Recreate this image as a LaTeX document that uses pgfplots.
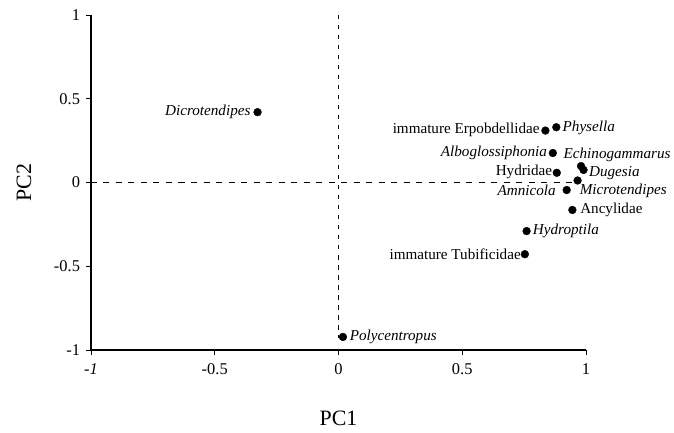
\documentclass[border=0pt]{standalone}
\usepackage{pgfplots}
\pgfplotsset{compat=1.18}
\usepackage{fontspec}
\setmainfont{Liberation Serif}

\begin{document}
\begin{tikzpicture}[x=1bp,y=1bp]
\begin{axis}[
    scale only axis,
    width=495bp, height=335bp,
    xmin=-1, xmax=1, ymin=-1, ymax=1,
    axis x line=bottom, axis y line=left,
    axis line style={-, line width=1.2pt},
    xtick={-1,-0.5,0,0.5,1},
    ytick={-1,-0.5,0,0.5,1},
    xticklabels={\textit{-1},-0.5,0,0.5,1},
    yticklabels={-1,-0.5,0,0.5,1},
    tick align=outside,
    major tick length=5bp,
    tick style={line width=0.9pt, black},
    ticklabel style={font=\fontsize{16.5}{18}\selectfont},
    yticklabel style={xshift=-2.5bp},
    xticklabel style={yshift=-5bp},
    xlabel={PC1}, ylabel={PC2},
    every axis x label/.style={at={(axis description cs:0.5,0)}, anchor=center,
        yshift=-68bp, font=\fontsize{22}{24}\selectfont},
    every axis y label/.style={at={(axis description cs:0,0.5)}, anchor=center,
        rotate=90, yshift=67bp, font=\fontsize{22}{24}\selectfont},
    clip=false,
]
% dashed reference lines
\addplot[black, line width=1pt, dash pattern=on 6bp off 6.5bp] coordinates {(-1,0) (0.955,0)};
\addplot[black, line width=1pt, dash pattern=on 4.5bp off 5.5bp] coordinates {(0,1) (0,-0.93)};

% taxa scores
\addplot[only marks, mark=*, mark size=3.9bp, black] coordinates {
 (-0.327,0.42) (0.836,0.31) (0.880,0.33) (0.866,0.176) (0.882,0.058)
 (0.980,0.098) (0.990,0.075) (0.966,0.012) (0.922,-0.045) (0.945,-0.164)
 (0.760,-0.290) (0.753,-0.428) (0.018,-0.922)
};

\tikzset{lab/.style={font=\fontsize{15.2}{17}\selectfont, inner sep=0bp}}
\node[lab, anchor=east] at (axis cs:-0.355,0.42) {\textit{Dicrotendipes}};
\node[lab, anchor=east] at (axis cs:0.813,0.313) {immature Erpobdellidae};
\node[lab, anchor=west] at (axis cs:0.905,0.326) {\textit{Physella}};
\node[lab, anchor=east] at (axis cs:0.843,0.176) {\textit{Alboglossiphonia}};
\node[lab, anchor=east] at (axis cs:0.864,0.062) {Hydridae};
\node[lab, anchor=west] at (axis cs:0.909,0.166) {\textit{Echinogammarus}};
\node[lab, anchor=west] at (axis cs:1.012,0.058) {\textit{Dugesia}};
\node[lab, anchor=west] at (axis cs:0.974,-0.048) {\textit{Microtendipes}};
\node[lab, anchor=east] at (axis cs:0.878,-0.045) {\textit{Amnicola}};
\node[lab, anchor=west] at (axis cs:0.976,-0.164) {Ancylidae};
\node[lab, anchor=west] at (axis cs:0.785,-0.288) {\textit{Hydroptila}};
\node[lab, anchor=east] at (axis cs:0.737,-0.428) {immature Tubificidae};
\node[lab, anchor=west] at (axis cs:0.045,-0.922) {\textit{Polycentropus}};

% page extent
\path (rel axis cs:0,0) ++(-91bp,-83bp) coordinate (bbsw);
\path (rel axis cs:1,1) ++(88bp,15bp) coordinate (bbne);
\end{axis}
\useasboundingbox (bbsw) rectangle (bbne);
\end{tikzpicture}
\end{document}
